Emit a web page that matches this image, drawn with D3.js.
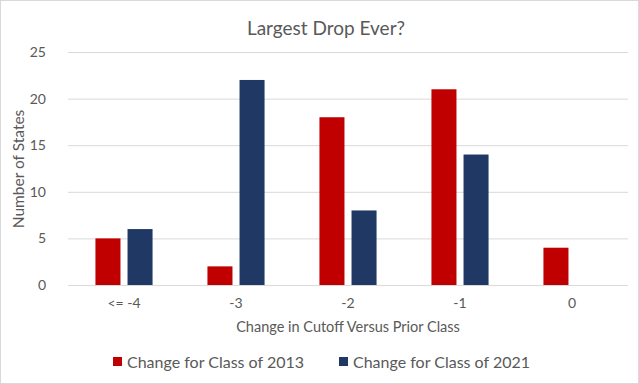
<!DOCTYPE html>
<html>
<head>
<meta charset="utf-8">
<script src="https://cdn.jsdelivr.net/npm/d3@7"></script>
<style>
body { margin: 0; background: #fff; }
svg { font-family: Lato, "Open Sans", sans-serif; }
</style>
</head>
<body>
<svg width="639" height="384"></svg>
<script>
var categories = ["<= -4", "-3", "-2", "-1", "0"];
var seriesNames = ["Change for Class of 2013", "Change for Class of 2021"];
var class2013 = [5, 2, 18, 21, 4];
var class2021 = [6, 22, 8, 14, 0];
var yTicks = [0, 5, 10, 15, 20, 25];
var colors = ["#C00000", "#203864"];

var svg = d3.select("svg");
var width = 639, height = 384;

// chart frame
svg.append("rect")
    .attr("x", 0.5).attr("y", 0.5)
    .attr("width", width - 1).attr("height", height - 1)
    .attr("fill", "#fff").attr("stroke", "#d9d9d9");

var plot = { left: 68, right: 628, top: 52, bottom: 285 };

var x0 = d3.scaleBand().domain(categories)
    .range([plot.left, plot.right])
    .paddingInner(0.49).paddingOuter(0.245);

var x1 = d3.scaleBand().domain(seriesNames)
    .range([0, x0.bandwidth()])
    .paddingInner(0.22);

var y = d3.scaleLinear().domain([0, 25]).range([plot.bottom, plot.top]);

// gridlines
svg.append("g")
    .selectAll("line")
    .data(yTicks)
    .enter().append("line")
    .attr("x1", plot.left).attr("x2", plot.right)
    .attr("y1", function(d) { return y(d) + 0.5; })
    .attr("y2", function(d) { return y(d) + 0.5; })
    .attr("stroke", "#d9d9d9").attr("stroke-width", 1);

// y labels
svg.append("g")
    .selectAll("text")
    .data(yTicks)
    .enter().append("text")
    .attr("x", 46)
    .attr("y", function(d) { return y(d); })
    .attr("dy", "0.35em")
    .attr("text-anchor", "end")
    .attr("font-size", 14)
    .attr("fill", "#595959")
    .text(function(d) { return d; });

// x labels
svg.append("g")
    .selectAll("text")
    .data(categories)
    .enter().append("text")
    .attr("x", function(d) { return x0(d) + x0.bandwidth() / 2; })
    .attr("y", 308)
    .attr("text-anchor", "middle")
    .attr("font-size", 14)
    .attr("fill", "#595959")
    .text(function(d) { return d; });

var rows = categories.map(function(c, i) {
    return { cat: c, values: [class2013[i], class2021[i]] };
});

var groups = svg.append("g")
    .selectAll("g")
    .data(rows)
    .enter().append("g")
    .attr("transform", function(d) { return "translate(" + x0(d.cat) + ",0)"; });

groups.selectAll("rect")
    .data(function(d) {
        return d.values.map(function(v, j) { return { name: seriesNames[j], value: v, color: colors[j] }; });
    })
    .enter().append("rect")
    .attr("x", function(d) { return x1(d.name); })
    .attr("y", function(d) { return y(d.value); })
    .attr("width", x1.bandwidth())
    .attr("height", function(d) { return y(0) - y(d.value); })
    .attr("fill", function(d) { return d.color; });

// title
svg.append("text")
    .attr("x", 326).attr("y", 35)
    .attr("text-anchor", "middle")
    .attr("font-size", 19)
    .attr("fill", "#595959")
    .text("Largest Drop Ever?");

// axis titles
svg.append("text")
    .attr("x", 348).attr("y", 332)
    .attr("text-anchor", "middle")
    .attr("font-size", 14.5)
    .attr("fill", "#595959")
    .text("Change in Cutoff Versus Prior Class");

svg.append("text")
    .attr("transform", "translate(24,169) rotate(-90)")
    .attr("text-anchor", "middle")
    .attr("font-size", 15.5)
    .attr("fill", "#595959")
    .text("Number of States");

// legend
var legendX = [113, 339];
var legend = svg.append("g")
    .selectAll("g")
    .data(seriesNames)
    .enter().append("g")
    .attr("transform", function(d, i) { return "translate(" + legendX[i] + ",357)"; });

legend.append("rect")
    .attr("width", 9).attr("height", 9)
    .attr("fill", function(d, i) { return colors[i]; });

legend.append("text")
    .attr("x", 14).attr("y", 5)
    .attr("dy", "0.35em")
    .attr("font-size", 16)
    .attr("fill", "#595959")
    .text(function(d) { return d; });
</script>
</body>
</html>
